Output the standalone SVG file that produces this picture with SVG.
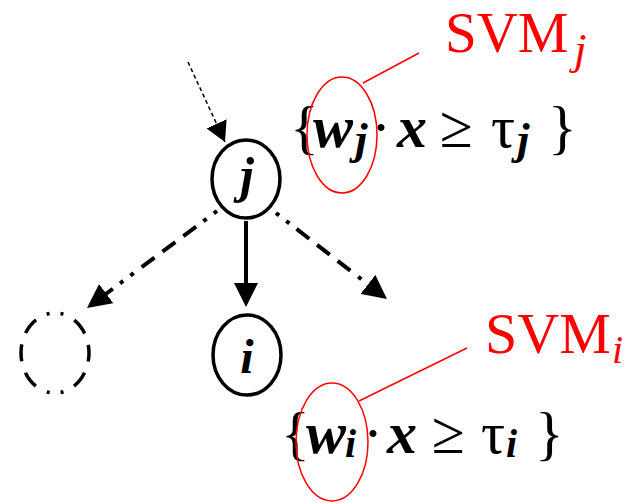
<svg xmlns="http://www.w3.org/2000/svg" width="635" height="502" viewBox="0 0 635 502">
  <style>
    .node { fill: none; stroke: #000; stroke-width: 3.5; }
    .edge { fill: none; stroke: #000; stroke-width: 4; }
    .pat { stroke-dasharray: 4 9 4 9 16 10 16 10 16 10; }
    .red { fill: none; stroke: #f00; stroke-width: 1.5; }
    .t { font-family: "Liberation Serif", "Times New Roman", serif; fill: #000; }
    .bi { font-weight: bold; font-style: italic; }
    .it { font-style: italic; }
    .r { fill: #f00; }
  </style>
  <defs>
    <marker id="head" markerUnits="userSpaceOnUse" markerWidth="24" markerHeight="24" viewBox="0 0 24 24" refX="20" refY="12" orient="auto">
      <path d="M0,0 L24,12 L0,24 z" fill="#000"/>
    </marker>
    <marker id="headSmall" markerUnits="userSpaceOnUse" markerWidth="20" markerHeight="22" viewBox="0 0 20 22" refX="20" refY="11" orient="auto">
      <path d="M0,0 L20,11 L0,22 z" fill="#000"/>
    </marker>
  </defs>

  <g id="connectors">
    <line x1="188" y1="62" x2="225" y2="142" stroke="#000" stroke-width="1.5" stroke-dasharray="4 3" marker-end="url(#headSmall)"/>
    <line class="edge" x1="246" y1="221" x2="246" y2="303" marker-end="url(#head)"/>
    <line class="edge pat" x1="217" y1="211" x2="90.2" y2="305.6" marker-end="url(#head)"/>
    <line class="edge pat" x1="276" y1="213" x2="383.8" y2="296.6" marker-end="url(#head)"/>
  </g>

  <g id="node-j">
    <ellipse class="node" cx="246" cy="179" rx="34" ry="39"/>
    <text class="t bi" x="247" y="192" font-size="50" text-anchor="middle">j</text>
  </g>

  <g id="node-i">
    <ellipse class="node" cx="247" cy="355" rx="34" ry="40"/>
    <text class="t bi" x="247" y="373" font-size="48" text-anchor="middle">i</text>
  </g>

  <g id="node-empty">
    <ellipse class="node" cx="55" cy="353" rx="34" ry="40" stroke-dasharray="17 12 17 12 17 12 3 11 3 12.4" stroke-dashoffset="37.5"/>
  </g>

  <g id="label-j">
    <text class="t" font-size="60" y="147">
      <tspan x="290">{</tspan><tspan class="bi" x="313">w</tspan><tspan class="bi" x="355" y="154" font-size="45">j</tspan><tspan x="371" y="147">·</tspan><tspan class="bi" x="397">x</tspan><tspan x="440">≥</tspan><tspan x="491">τ</tspan><tspan class="bi" x="517" y="154" font-size="45">j</tspan><tspan x="548" y="147">}</tspan>
    </text>
    <ellipse class="red" cx="342" cy="135" rx="35" ry="58"/>
    <line class="red" x1="363" y1="83" x2="419" y2="53"/>
    <text class="t r" font-size="57" x="445" y="52">SVM<tspan class="it" x="574" y="64" font-size="45">j</tspan></text>
  </g>

  <g id="label-i">
    <text class="t" font-size="60" y="453">
      <tspan x="281">{</tspan><tspan class="bi" x="306">w</tspan><tspan class="bi" x="345" y="457" font-size="40">i</tspan><tspan x="363" y="453">·</tspan><tspan class="bi" x="387">x</tspan><tspan x="432">≥</tspan><tspan x="481">τ</tspan><tspan class="bi" x="506" y="457" font-size="40">i</tspan><tspan x="535" y="453">}</tspan>
    </text>
    <ellipse class="red" cx="332" cy="442" rx="36" ry="59"/>
    <line class="red" x1="359" y1="401" x2="467" y2="348"/>
    <text class="t r" font-size="58" x="485" y="353">SVM<tspan class="it" x="612" y="363" font-size="40">i</tspan></text>
  </g>
</svg>
